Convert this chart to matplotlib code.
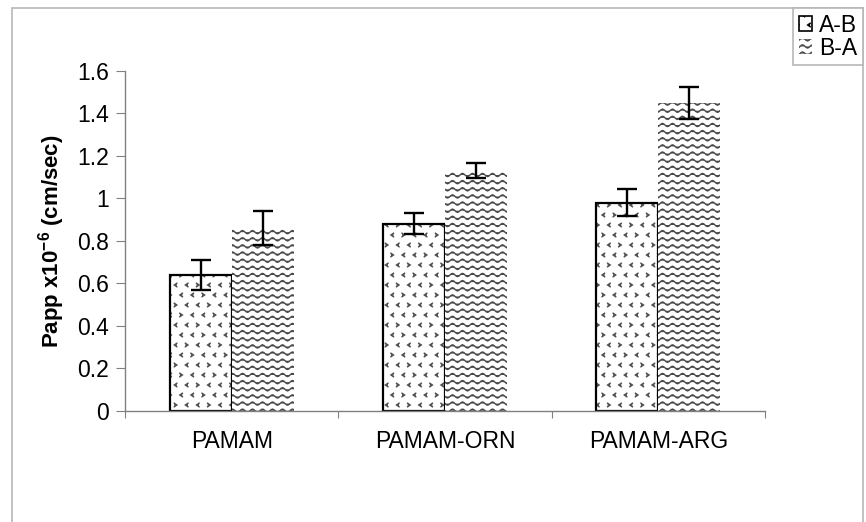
import warnings
import numpy as np
import matplotlib
matplotlib.use('Agg')
import matplotlib.pyplot as plt
from matplotlib import hatch as mhatch
from matplotlib.path import Path
from matplotlib.patches import Rectangle, Patch

warnings.filterwarnings('ignore')

# data
categories = ['PAMAM', 'PAMAM-ORN', 'PAMAM-ARG']
ab_vals = [0.64, 0.88, 0.98]
ab_err = [0.07, 0.05, 0.065]
ba_vals = [0.86, 1.13, 1.45]
ba_err = [0.08, 0.035, 0.075]
series = ['A-B', 'B-A']
yticks = [0, 0.2, 0.4, 0.6, 0.8, 1, 1.2, 1.4, 1.6]


# custom hatch patterns: '~' wavy lines, '>' small chevrons
class WaveHatch(mhatch.HatchPatternBase):
    def __init__(self, hatch, density):
        self.rows = hatch.count('~') * 14
        self.periods = 10
        self.steps = 8
        self.num_vertices = self.rows * (self.periods * self.steps + 1)

    def set_vertices_and_codes(self, vertices, codes):
        n = self.periods * self.steps + 1
        xs = np.linspace(0, 1, n)
        amp = 0.016
        for i in range(self.rows):
            y0 = (i + 0.5) / self.rows
            ys = y0 + amp * np.sin(2 * np.pi * self.periods * xs)
            vertices[i * n:(i + 1) * n, 0] = xs
            vertices[i * n:(i + 1) * n, 1] = ys
            codes[i * n] = Path.MOVETO
            codes[i * n + 1:(i + 1) * n] = Path.LINETO


class ChevronHatch(mhatch.HatchPatternBase):
    def __init__(self, hatch, density):
        self.rows = hatch.count('>') * 11
        self.cols = 9
        self.num_vertices = (self.rows - self.rows % 2) * self.cols * 3

    def set_vertices_and_codes(self, vertices, codes):
        a, b = 0.013, 0.018
        k = 0
        rows = self.rows - self.rows % 2
        for r in range(rows):
            y = (r + 0.5) / rows
            for c in range(self.cols):
                x = (c + 0.3 + 0.5 * (r % 2)) / self.cols
                s = -1 if (r + c) % 3 else 1
                vertices[k] = (x - s * a, y + b)
                vertices[k + 1] = (x + s * a, y)
                vertices[k + 2] = (x - s * a, y - b)
                codes[k] = Path.MOVETO
                codes[k + 1] = Path.LINETO
                codes[k + 2] = Path.LINETO
                k += 3


mhatch._hatch_types.append(WaveHatch)
mhatch._hatch_types.append(ChevronHatch)

plt.rcParams['font.family'] = ['Liberation Sans', 'DejaVu Sans']
plt.rcParams['mathtext.fontset'] = 'custom'
plt.rcParams['mathtext.rm'] = 'Liberation Sans'
plt.rcParams['mathtext.bf'] = 'Liberation Sans:bold'
plt.rcParams['hatch.linewidth'] = 1.0

fig = plt.figure(figsize=(8.66, 5.22), dpi=100)
ax = fig.add_axes([125 / 866, 1 - 410.5 / 522, 640 / 866, 339.5 / 522])

# outer chart frame
fig.patches.append(Rectangle((12 / 866, -0.05), 851 / 866, 1.05 - 8 / 522,
                             transform=fig.transFigure, fill=False,
                             edgecolor='#b8b8b8', linewidth=1.2))

x = np.arange(len(categories)) + 0.5
w = 0.29

ax.bar(x - w / 2, ab_vals, w, facecolor='white', edgecolor='#505050',
       linewidth=0, hatch='>', zorder=2)
ax.bar(x - w / 2, ab_vals, w, fill=False, edgecolor='black',
       linewidth=1.6, zorder=2)
ax.bar(x + w / 2, ba_vals, w, facecolor='white', edgecolor='#4a4a4a',
       linewidth=0, hatch='~', zorder=2)
ax.errorbar(x - w / 2, ab_vals, yerr=ab_err, fmt='none', ecolor='black',
            elinewidth=1.7, capsize=7, capthick=1.7, zorder=3)
ax.errorbar(x + w / 2, ba_vals, yerr=ba_err, fmt='none', ecolor='black',
            elinewidth=1.7, capsize=7, capthick=1.7, zorder=3)

ax.set_xlim(0, len(categories))
ax.set_ylim(0, 1.6)
ax.set_yticks(yticks)
ax.set_yticklabels([f'{t:g}' for t in yticks], fontsize=16.5)

ax.set_xticks(np.arange(len(categories) + 1))
ax.set_xticklabels([])
ax.set_xticks(x, minor=True)
ax.set_xticklabels(categories, minor=True, fontsize=16.5)
ax.tick_params(axis='x', which='major', direction='out', length=5,
               color='#808080')
ax.tick_params(axis='x', which='minor', length=0, pad=14)
ax.tick_params(axis='y', direction='out', length=6.5, color='#808080', pad=5)

for s in ['top', 'right']:
    ax.spines[s].set_visible(False)
for s in ['left', 'bottom']:
    ax.spines[s].set_color('#808080')
    ax.spines[s].set_linewidth(1)

ax.set_ylabel(r'Papp x10$^{\mathbf{-6}}$ (cm/sec)', fontsize=16,
              fontweight='bold')
ax.yaxis.set_label_coords(-58 / 640, 0.5)

handles = [Patch(facecolor='white', edgecolor='black', hatch='>',
                 linewidth=1.2),
           Patch(facecolor='white', edgecolor='#4a4a4a', hatch='~',
                 linewidth=0)]
leg = fig.legend(handles, series, loc='upper right',
                 bbox_to_anchor=(863 / 866, 1 - 8 / 522), borderaxespad=0,
                 fontsize=16.5, fancybox=False, edgecolor='#b8b8b8',
                 handlelength=0.6, handleheight=0.6, handletextpad=0.3,
                 labelspacing=0.0, borderpad=0.25, framealpha=1)
leg.get_frame().set_linewidth(1.2)

fig.savefig('out.png', dpi=100)
